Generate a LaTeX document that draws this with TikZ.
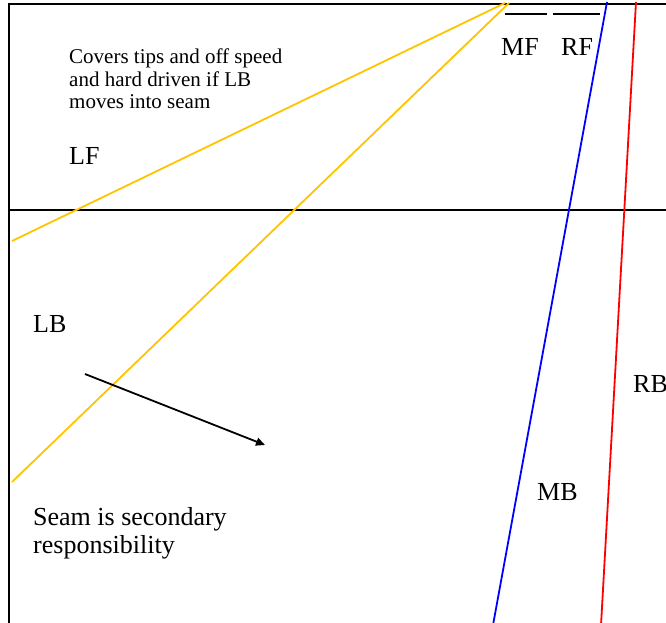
\documentclass[tikz,border=0pt]{standalone}
\usepackage{fontspec}
\setmainfont{Liberation Serif}
\usetikzlibrary{arrows.meta}
\definecolor{zonegold}{RGB}{255,196,0}
\begin{document}
\begin{tikzpicture}[x=1pt,y=-1pt,
  frame/.style={line width=2pt,black},
  gap/.style={line width=1.8pt,draw=#1},
  lbl/.style={anchor=base west,inner sep=0pt,font=\fontsize{26}{28}\selectfont},
  note/.style={anchor=base west,inner sep=0pt,align=left,font=\fontsize{21}{22.5}\selectfont}]
\useasboundingbox (0,0) rectangle (666,623);
% field frame and line of scrimmage
\coordinate (tl) at (9,4);
\coordinate (tr) at (668,4);
\coordinate (bl) at (9,625);
\coordinate (ml) at (9,210);
\coordinate (mr) at (668,210);
\draw[frame] (bl) -- (tl) -- (tr);
\draw[frame] (ml) -- (mr);
% zone boundaries
\coordinate (apexA) at (505,3);
\coordinate (apexB) at (509,3);
\coordinate (lfEnd) at (12,241);
\coordinate (lbEnd) at (12,482);
\draw[gap=zonegold] (lfEnd) -- (apexA);
\draw[gap=zonegold] (lbEnd) -- (apexB);
\coordinate (mbTop) at (607,2);
\coordinate (mbBot) at (493,625);
\draw[gap=blue] (mbTop) -- (mbBot);
\coordinate (rbTop) at (636,2);
\coordinate (rbBot) at (601,625);
\draw[gap=red] (rbTop) -- (rbBot);
% front markers
\coordinate (mfA) at (505,14);
\coordinate (mfB) at (547,14);
\coordinate (rfA) at (553,14);
\coordinate (rfB) at (600,14);
\draw[line width=1.8pt] (mfA) -- (mfB);
\draw[line width=1.8pt] (rfA) -- (rfB);
% labels
\node[note] (cov) at (69,109) {Covers tips and off speed\\and hard driven if LB\\moves into seam};
\node[lbl] (lf) at (69,164) {LF};
\node[lbl] (lb) at (33,332) {LB};
\node[lbl] (mf) at (501,56) {MF};
\node[lbl] (rf) at (561,56) {RF};
\node[lbl] (rb) at (633,392) {RB};
\node[lbl] (mb) at (537,500) {MB};
\node[lbl,align=left] (seam) at (33,553) {Seam is secondary\\responsibility};
% LB drop
\coordinate (arrS) at (85,374);
\coordinate (arrE) at (265,445);
\draw[line width=1.8pt,-{Triangle[length=9pt,width=8pt]}] (arrS) -- (arrE);
\end{tikzpicture}
\end{document}
